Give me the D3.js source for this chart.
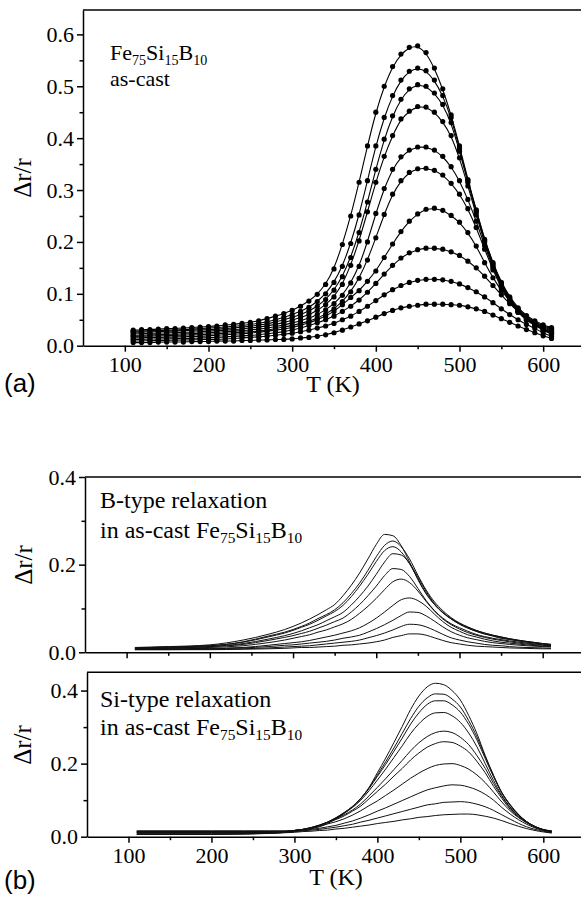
<!DOCTYPE html>
<html>
<head>
<meta charset="utf-8">
<script src="https://cdn.jsdelivr.net/npm/d3@7"></script>
<style>
  body { margin: 0; background: #fff; }
  svg { display: block; }
</style>
</head>
<body>
<svg id="chart" width="581" height="897"></svg>
<script>
// temperatures of the measured points, panel (a)
var tempA = [110,120,130,140,150,160,170,180,190,200,210,220,230,240,250,260,270,280,290,300,
  310,320,330,340,350,360,370,380,390,400,410,420,430,440,450,460,470,480,490,500,
  510,520,530,540,550,560,570,580,590,600,610];

// panel (a): as-cast curves, top to bottom
var a1 = [0.030,0.031,0.031,0.032,0.033,0.033,0.034,0.035,0.036,0.037, 0.038,0.040,0.041,0.043,0.045,0.048,0.052,0.057,0.062,0.068,
  0.076,0.086,0.099,0.118,0.148,0.195,0.250,0.315,0.385,0.450, 0.500,0.538,0.562,0.575,0.578,0.565,0.535,0.495,0.445,0.385,
  0.320,0.262,0.205,0.160,0.122,0.094,0.073,0.058,0.048,0.040,0.035];
var a2 = [0.028,0.028,0.029,0.029,0.030,0.030,0.031,0.032,0.033,0.034, 0.035,0.036,0.037,0.039,0.041,0.043,0.046,0.050,0.055,0.060,
  0.066,0.074,0.085,0.100,0.122,0.153,0.197,0.252,0.318,0.385, 0.440,0.482,0.512,0.529,0.535,0.530,0.512,0.482,0.440,0.380,
  0.318,0.260,0.203,0.158,0.120,0.092,0.071,0.056,0.046,0.038,0.033];
var a3 = [0.026,0.026,0.027,0.027,0.028,0.028,0.029,0.030,0.030,0.031, 0.032,0.033,0.034,0.036,0.037,0.040,0.042,0.046,0.050,0.055,
  0.060,0.067,0.076,0.089,0.107,0.133,0.170,0.218,0.277,0.340, 0.398,0.443,0.475,0.495,0.503,0.500,0.487,0.465,0.430,0.375,
  0.315,0.257,0.201,0.156,0.118,0.090,0.069,0.054,0.044,0.036,0.031];
var a4 = [0.023,0.023,0.024,0.024,0.025,0.025,0.026,0.026,0.027,0.028, 0.029,0.030,0.031,0.032,0.034,0.036,0.038,0.041,0.045,0.049,
  0.054,0.060,0.068,0.079,0.094,0.118,0.155,0.202,0.258,0.315, 0.365,0.405,0.437,0.452,0.461,0.460,0.450,0.432,0.405,0.362,
  0.308,0.252,0.198,0.153,0.116,0.088,0.067,0.052,0.042,0.034,0.029];
var a5 = [0.020,0.020,0.021,0.021,0.022,0.022,0.023,0.023,0.024,0.025, 0.026,0.027,0.028,0.029,0.030,0.032,0.034,0.037,0.040,0.044,
  0.048,0.053,0.060,0.069,0.081,0.097,0.121,0.153,0.200,0.255, 0.303,0.340,0.364,0.377,0.383,0.383,0.377,0.365,0.345,0.318,
  0.282,0.240,0.193,0.150,0.114,0.086,0.065,0.050,0.040,0.032,0.027];
var a6 = [0.018,0.018,0.019,0.019,0.019,0.020,0.020,0.021,0.021,0.022, 0.023,0.024,0.025,0.026,0.027,0.028,0.030,0.033,0.036,0.039,
  0.043,0.047,0.053,0.061,0.071,0.085,0.104,0.130,0.165,0.208, 0.253,0.292,0.318,0.334,0.341,0.342,0.338,0.329,0.313,0.292,
  0.264,0.228,0.186,0.146,0.111,0.084,0.064,0.049,0.038,0.031,0.025];
var a7 = [0.015,0.015,0.016,0.016,0.016,0.017,0.017,0.018,0.018,0.019, 0.020,0.021,0.022,0.023,0.024,0.026,0.028,0.030,0.032,0.035,
  0.039,0.044,0.050,0.057,0.066,0.079,0.093,0.106,0.124,0.144, 0.170,0.196,0.220,0.240,0.254,0.263,0.265,0.261,0.251,0.238,
  0.218,0.192,0.160,0.131,0.106,0.086,0.068,0.053,0.041,0.031,0.024];
var a8 = [0.012,0.012,0.013,0.013,0.013,0.014,0.014,0.014,0.015,0.015, 0.016,0.017,0.018,0.019,0.020,0.021,0.023,0.025,0.027,0.030,
  0.034,0.039,0.044,0.050,0.057,0.066,0.076,0.088,0.103,0.120, 0.138,0.155,0.169,0.179,0.185,0.188,0.188,0.186,0.181,0.174,
  0.163,0.150,0.134,0.116,0.098,0.081,0.066,0.052,0.040,0.030,0.022];
var a9 = [0.009,0.009,0.010,0.010,0.010,0.011,0.011,0.011,0.012,0.012, 0.012,0.013,0.014,0.015,0.016,0.017,0.018,0.020,0.022,0.024,
  0.027,0.030,0.034,0.038,0.043,0.050,0.057,0.066,0.076,0.087, 0.098,0.108,0.116,0.122,0.126,0.128,0.128,0.127,0.124,0.119,
  0.112,0.104,0.094,0.083,0.071,0.060,0.050,0.041,0.033,0.025,0.018];
var a10 = [0.006,0.006,0.006,0.007,0.007,0.007,0.007,0.008,0.008,0.008, 0.009,0.009,0.009,0.010,0.010,0.011,0.011,0.012,0.012,0.013,
  0.015,0.016,0.018,0.021,0.025,0.030,0.036,0.042,0.048,0.055, 0.062,0.068,0.073,0.076,0.078,0.080,0.080,0.080,0.079,0.078,
  0.075,0.071,0.066,0.059,0.052,0.045,0.038,0.031,0.025,0.019,0.014];

// temperatures of the component curves, panel (b)
var tempB = [110,150,200,240,270,290,300,310,320,330,340,350,360,370,380,390,400,410,420,430,
  440,450,460,470,480,490,500,510,520,530,540,550,560,580,600,610];

// B-type relaxation
var b1 = [0.011,0.013,0.017,0.028,0.041,0.052, 0.059,0.067,0.076,0.086,0.097,0.109,0.129,0.153,0.181,0.213,
  0.246,0.269,0.266,0.243,0.206,0.166,0.133,0.109,0.091,0.077, 0.066,0.057,0.050,0.044,0.039,0.035,0.031, 0.025,0.020,0.018];
var b2 = [0.010,0.012,0.015,0.024,0.037,0.046, 0.052,0.059,0.067,0.077,0.086,0.097,0.113,0.134,0.158,0.187,
  0.218,0.244,0.254,0.241,0.213,0.176,0.142,0.115,0.095,0.079, 0.067,0.058,0.050,0.044,0.039,0.035,0.031, 0.025,0.020,0.018];
var b3 = [0.010,0.012,0.015,0.023,0.035,0.044, 0.050,0.057,0.064,0.073,0.083,0.093,0.107,0.127,0.151,0.178,
  0.207,0.232,0.241,0.229,0.202,0.168,0.135,0.109,0.090,0.076, 0.065,0.056,0.048,0.042,0.038,0.033,0.030, 0.024,0.019,0.017];
var b4 = [0.009,0.010,0.013,0.020,0.030,0.038, 0.043,0.049,0.056,0.063,0.072,0.081,0.091,0.108,0.128,0.151,
  0.178,0.206,0.225,0.222,0.203,0.172,0.139,0.111,0.091,0.076, 0.064,0.055,0.048,0.042,0.037,0.032,0.029, 0.023,0.019,0.017];
var b5 = [0.009,0.010,0.013,0.018,0.027,0.034, 0.038,0.043,0.048,0.055,0.062,0.070,0.078,0.092,0.109,0.129,
  0.151,0.175,0.191,0.189,0.173,0.146,0.118,0.095,0.078,0.065, 0.056,0.048,0.041,0.036,0.032,0.029,0.026, 0.021,0.017,0.015];
var b6 = [0.008,0.009,0.011,0.015,0.022,0.028, 0.032,0.036,0.040,0.046,0.051,0.058,0.065,0.075,0.089,0.105,
  0.123,0.143,0.161,0.167,0.159,0.140,0.116,0.094,0.076,0.063, 0.053,0.045,0.039,0.034,0.030,0.027,0.024, 0.019,0.016,0.014];
var b7 = [0.007,0.008,0.009,0.011,0.016,0.020, 0.022,0.024,0.027,0.031,0.035,0.039,0.044,0.049,0.056,0.066,
  0.078,0.092,0.107,0.120,0.124,0.118,0.105,0.087,0.070,0.057, 0.048,0.040,0.035,0.030,0.026,0.023,0.021, 0.017,0.014,0.013];
var b8 = [0.007,0.007,0.008,0.010,0.013,0.016, 0.017,0.019,0.021,0.023,0.025,0.028,0.032,0.035,0.039,0.046,
  0.054,0.063,0.073,0.084,0.092,0.091,0.083,0.071,0.058,0.047, 0.039,0.033,0.029,0.025,0.022,0.020,0.018, 0.015,0.013,0.012];
var b9 = [0.006,0.006,0.007,0.008,0.010,0.012, 0.013,0.014,0.015,0.017,0.019,0.021,0.023,0.025,0.028,0.033,
  0.038,0.044,0.051,0.059,0.064,0.063,0.058,0.050,0.041,0.033, 0.028,0.024,0.021,0.018,0.016,0.015,0.013, 0.011,0.010,0.009];
var b10 = [0.006,0.006,0.006,0.007,0.008,0.009, 0.010,0.011,0.011,0.012,0.013,0.014,0.016,0.017,0.019,0.021,
  0.024,0.028,0.034,0.038,0.042,0.042,0.039,0.033,0.027,0.022, 0.019,0.016,0.014,0.013,0.012,0.011,0.010, 0.009,0.008,0.008];

// Si-type relaxation
var s1 = [0.016,0.016,0.016,0.016,0.016,0.016, 0.017,0.019,0.022,0.027,0.036,0.049,0.064,0.082,0.105,0.135,
  0.175,0.215,0.258,0.302,0.348,0.385,0.410,0.420,0.416,0.400, 0.374,0.332,0.282,0.222,0.168,0.120,0.087, 0.040,0.019,0.016];
var s2 = [0.015,0.015,0.015,0.015,0.015,0.015, 0.017,0.020,0.023,0.029,0.039,0.051,0.066,0.083,0.105,0.134,
  0.169,0.205,0.243,0.283,0.323,0.357,0.380,0.391,0.390,0.377, 0.355,0.318,0.273,0.219,0.167,0.121,0.088, 0.041,0.020,0.016];
var s3 = [0.014,0.014,0.014,0.014,0.014,0.014, 0.017,0.019,0.023,0.030,0.040,0.052,0.066,0.082,0.104,0.132,
  0.165,0.198,0.234,0.270,0.308,0.339,0.362,0.372,0.372,0.361, 0.341,0.308,0.265,0.214,0.164,0.120,0.086, 0.041,0.019,0.015];
var s4 = [0.013,0.013,0.013,0.013,0.013,0.014, 0.017,0.019,0.024,0.031,0.040,0.051,0.064,0.080,0.100,0.126,
  0.155,0.185,0.217,0.249,0.282,0.309,0.329,0.339,0.340,0.331, 0.313,0.284,0.246,0.200,0.154,0.113,0.081, 0.040,0.018,0.014];
var s5 = [0.012,0.012,0.012,0.012,0.013,0.015, 0.017,0.020,0.025,0.032,0.040,0.049,0.060,0.073,0.090,0.112,
  0.135,0.159,0.184,0.209,0.235,0.257,0.274,0.285,0.289,0.285, 0.272,0.252,0.222,0.187,0.146,0.110,0.079, 0.041,0.019,0.013];
var s6 = [0.011,0.011,0.011,0.011,0.012,0.014, 0.017,0.020,0.025,0.031,0.039,0.047,0.057,0.070,0.084,0.104,
  0.124,0.144,0.166,0.187,0.210,0.229,0.245,0.255,0.260,0.258, 0.248,0.232,0.206,0.175,0.138,0.105,0.075, 0.039,0.018,0.013];
var s7 = [0.010,0.010,0.010,0.010,0.012,0.014, 0.017,0.020,0.024,0.029,0.035,0.041,0.049,0.059,0.071,0.085,
  0.098,0.113,0.128,0.144,0.160,0.174,0.186,0.195,0.199,0.200, 0.195,0.185,0.169,0.148,0.122,0.095,0.071, 0.038,0.019,0.014];
var s8 = [0.008,0.008,0.008,0.008,0.010,0.012, 0.014,0.017,0.020,0.023,0.027,0.031,0.037,0.043,0.051,0.060,
  0.070,0.079,0.089,0.099,0.109,0.119,0.128,0.134,0.139,0.142, 0.141,0.136,0.128,0.116,0.100,0.080,0.062, 0.034,0.017,0.013];
var s9 = [0.007,0.007,0.007,0.008,0.009,0.012, 0.014,0.016,0.018,0.020,0.023,0.026,0.030,0.034,0.040,0.045,
  0.051,0.057,0.063,0.069,0.075,0.081,0.087,0.090,0.094,0.095, 0.096,0.094,0.089,0.082,0.072,0.060,0.048, 0.027,0.015,0.011];
var s10 = [0.006,0.006,0.006,0.007,0.009,0.011, 0.012,0.014,0.015,0.017,0.018,0.021,0.023,0.026,0.029,0.032,
  0.036,0.039,0.042,0.046,0.049,0.053,0.055,0.058,0.060,0.061, 0.062,0.062,0.060,0.056,0.051,0.044,0.036, 0.022,0.013,0.010];

// ticks
var xMajor = [100, 200, 300, 400, 500, 600];
var xMinor = [150, 250, 350, 450, 550];
var yMajorA = [0, 0.1, 0.2, 0.3, 0.4, 0.5, 0.6];
var yMinorA = [0.05, 0.15, 0.25, 0.35, 0.45, 0.55];
var yMajorB = [0, 0.2, 0.4];
var yMinorB = [0.1, 0.3];

var seriesA = [a1, a2, a3, a4, a5, a6, a7, a8, a9, a10];
var seriesB = [b1, b2, b3, b4, b5, b6, b7, b8, b9, b10];
var seriesS = [s1, s2, s3, s4, s5, s6, s7, s8, s9, s10];

var serif = '"Liberation Serif", "Times New Roman", Times, serif';
var sans = '"Liberation Sans", Arial, Helvetica, sans-serif';

var svg = d3.select('#chart');

// scales for the three frames
var xA = d3.scaleLinear().domain([50, 650]).range([83, 585]);
var yA = d3.scaleLinear().domain([0, 0.647]).range([345.7, 10]);
var xB = d3.scaleLinear().domain([50, 650]).range([85, 584.3]);
var yB = d3.scaleLinear().domain([0, 0.4]).range([652.3, 477]);
var xS = d3.scaleLinear().domain([50, 650]).range([87, 584.8]);
var yS = d3.scaleLinear().domain([0, 0.45]).range([836.7, 672.3]);

// axes: left + bottom + a line across the top
function drawFrame(x, y, yMajor, yMinor, xLabels) {
    var left = x.range()[0];
    var bottom = y.range()[0];
    var g = svg.append('g').attr('color', '#000');

    g.append('g')
        .attr('transform', 'translate(' + left + ',0)')
        .call(d3.axisLeft(y).tickValues(yMinor).tickSize(3.5).tickFormat(''))
        .call(function(a) { a.select('.domain').remove(); });

    g.append('g')
        .attr('transform', 'translate(' + left + ',0)')
        .call(d3.axisLeft(y).tickValues(yMajor).tickSize(6).tickSizeOuter(0)
            .tickPadding(3).tickFormat(d3.format('.1f')));

    g.append('g')
        .attr('transform', 'translate(0,' + bottom + ')')
        .call(d3.axisBottom(x).tickValues(xMinor).tickSize(3.5).tickFormat(''))
        .call(function(a) { a.select('.domain').remove(); });

    g.append('g')
        .attr('transform', 'translate(0,' + bottom + ')')
        .call(d3.axisBottom(x).tickValues(xMajor).tickSize(6).tickSizeOuter(0)
            .tickPadding(5).tickFormat(xLabels ? d3.format('d') : ''));

    g.append('line')
        .attr('x1', left).attr('x2', 581)
        .attr('y1', y.range()[1]).attr('y2', y.range()[1])
        .attr('stroke', '#000');

    g.selectAll('path, line').attr('stroke-width', 1.5);
    g.selectAll('text')
        .attr('font-family', serif)
        .attr('font-size', 22)
        .attr('fill', '#000');
}

drawFrame(xA, yA, yMajorA, yMinorA, true);
drawFrame(xB, yB, yMajorB, yMinorB, false);
drawFrame(xS, yS, yMajorB, yMinorB, true);

// panel (a): fitted lines and measured points
var lineA = d3.line()
    .x(function(d, i) { return xA(tempA[i]); })
    .y(function(d) { return yA(d); })
    .curve(d3.curveBasis);

seriesA.forEach(function(s) {
    svg.append('path').datum(s)
        .attr('d', lineA)
        .attr('fill', 'none')
        .attr('stroke', '#000')
        .attr('stroke-width', 1.1);

    svg.append('g').selectAll('circle')
        .data(s)
        .enter().append('circle')
        .attr('cx', function(d, i) { return xA(tempA[i]); })
        .attr('cy', function(d) { return yA(d); })
        .attr('r', 2.6)
        .attr('fill', '#000');
});

// panel (b): component curves
function drawComponents(series, x, y) {
    var line = d3.line()
        .x(function(d, i) { return x(tempB[i]); })
        .y(function(d) { return y(d); })
        .curve(d3.curveMonotoneX);
    series.forEach(function(s) {
        svg.append('path').datum(s)
            .attr('d', line)
            .attr('fill', 'none')
            .attr('stroke', '#111')
            .attr('stroke-width', 1);
    });
}
drawComponents(seriesB, xB, yB);
drawComponents(seriesS, xS, yS);

// labels
function yTitle(x, y) {
    svg.append('text')
        .attr('transform', 'translate(' + x + ',' + y + ') rotate(-90)')
        .attr('text-anchor', 'middle')
        .attr('font-family', serif)
        .attr('font-size', 25)
        .text('Δr/r');
}
yTitle(31, 178);
yTitle(32, 565);
yTitle(31, 745);

function xTitle(x, y) {
    svg.append('text')
        .attr('x', x).attr('y', y)
        .attr('text-anchor', 'middle')
        .attr('font-family', serif)
        .attr('font-size', 24)
        .text('T (K)');
}
xTitle(333, 392);
xTitle(336, 885);

svg.append('text').attr('x', 4).attr('y', 392)
    .attr('font-family', sans).attr('font-size', 26).text('(a)');
svg.append('text').attr('x', 4).attr('y', 889)
    .attr('font-family', sans).attr('font-size', 26).text('(b)');

// chemical formula with subscripts
function formula(x, y, size, prefix) {
    var t = svg.append('text')
        .attr('x', x).attr('y', y)
        .attr('font-family', serif)
        .attr('font-size', size);
    var parts = [[prefix + 'Fe', false], ['75', true], ['Si', false], ['15', true], ['B', false], ['10', true]];
    var drop = size * 0.22;
    parts.forEach(function(p, i) {
        var ts = t.append('tspan').text(p[0]);
        if (p[1]) {
            ts.attr('dy', drop).attr('font-size', size * 0.64);
        } else if (i > 0) {
            ts.attr('dy', -drop);
        }
    });
}

formula(110, 60, 22, '');
svg.append('text').attr('x', 110).attr('y', 86)
    .attr('font-family', serif).attr('font-size', 22).text('as-cast');

svg.append('text').attr('x', 100).attr('y', 508)
    .attr('font-family', serif).attr('font-size', 24).text('B-type relaxation');
formula(100, 538, 24, 'in as-cast ');

svg.append('text').attr('x', 100).attr('y', 706.5)
    .attr('font-family', serif).attr('font-size', 24).text('Si-type relaxation');
formula(100, 735, 24, 'in as-cast ');
</script>
</body>
</html>
